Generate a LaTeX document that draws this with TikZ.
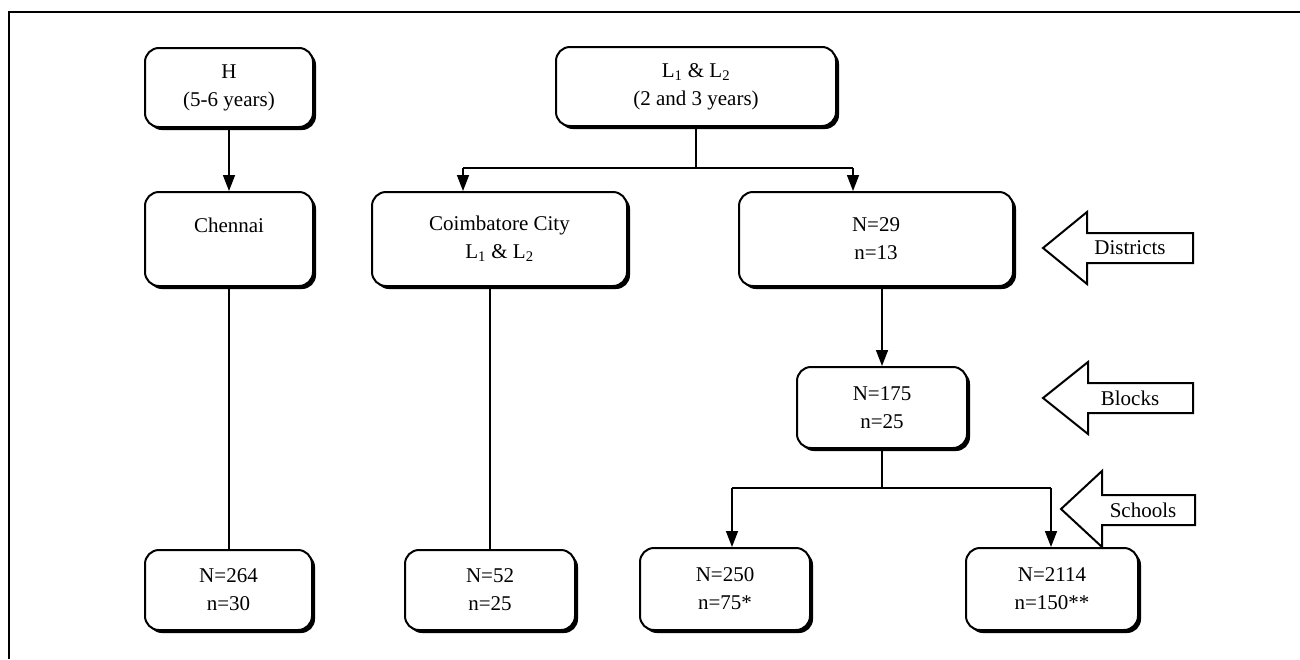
\documentclass[tikz,border=0pt]{standalone}
\usepackage{fontspec}
\setmainfont{Liberation Serif}
\usetikzlibrary{shadows,arrows.meta}
\tikzset{
  box/.style={draw, line width=2pt, rounded corners=14pt, fill=white, inner sep=0pt,
    align=center, font=\fontsize{21}{28}\selectfont,
    drop shadow={shadow xshift=3pt, shadow yshift=-3pt, fill=black, opacity=1}},
  conn/.style={line width=1.6pt},
  arr/.style={line width=1.6pt, -{Triangle[length=16pt,width=12pt]}},
  barrow/.style={draw, line width=2pt, fill=white, line join=miter},
  blabel/.style={font=\fontsize{21}{24}\selectfont, inner sep=0pt},
}
\begin{document}
\begin{tikzpicture}[x=1pt,y=-1pt]
\useasboundingbox (0,0) rectangle (1300,659);
\fill[white] (0,0) rectangle (1300,659);
% frame
\draw[line width=1.5pt] (1300,12) -- (9,12) -- (9,659);

% boxes
\node[box, minimum width=168pt, minimum height=79pt] (H) at (229,87.5) {H\\(5-6 years)};
\node[box, minimum width=280pt, minimum height=79pt] (L) at (696,86.5) {L\textsubscript{1} \& L\textsubscript{2}\\(2 and 3 years)};
\node[box, minimum width=168pt, minimum height=94pt] (Ch) at (229,239) {Chennai\\\mbox{}};
\node[box, minimum width=255pt, minimum height=94pt] (Co) at (499.5,239) {Coimbatore City\\L\textsubscript{1} \& L\textsubscript{2}};
\node[box, minimum width=274pt, minimum height=94pt] (D) at (876,239) {N=29\\n=13};
\node[box, minimum width=170pt, minimum height=81pt] (B) at (882,407.5) {N=175\\n=25};
\node[box, minimum width=167pt, minimum height=80pt] (N264) at (228.5,590) {N=264\\n=30};
\node[box, minimum width=170pt, minimum height=80pt] (N52) at (490,590) {N=52\\n=25};
\node[box, minimum width=170pt, minimum height=82pt] (N250) at (725,589) {N=250\\n=75*};
\node[box, minimum width=172pt, minimum height=82pt] (N2114) at (1052,589) {N=2114\\n=150**};

% connectors
\draw[arr] (H.south) -- (Ch.north);
\coordinate (jL) at (696,168);
\coordinate (aCo) at (463,168);
\coordinate (aD) at (853,168);
\draw[conn] (L.south) -- (jL);
\draw[conn] (aCo) -- (aD);
\draw[arr] (aCo) -- (aCo|-Co.north);
\draw[arr] (aD) -- (aD|-D.north);
\draw[arr] (D.south-|B.north) -- (B.north);
\coordinate (jB) at (882,488);
\coordinate (a250) at (732,488);
\coordinate (a2114) at (1051,488);
\draw[conn] (B.south) -- (jB);
\draw[conn] (a250) -- (a2114);
\draw[arr] (a250) -- (a250|-N250.north);
\draw[arr] (a2114) -- (a2114|-N2114.north);
\draw[conn] (Ch.south) -- (Ch.south|-N264.north);
\draw[conn] (N52.north|-Co.south) -- (N52.north);

% block arrows
\draw[barrow] (1043,248) -- (1087,212) -- (1087,233) -- (1193,233) -- (1193,263) -- (1087,263) -- (1087,284) -- cycle;
\node[blabel] (lD) at (1130,248) {Districts};
\draw[barrow] (1043,398) -- (1088,362) -- (1088,383) -- (1193,383) -- (1193,413) -- (1088,413) -- (1088,434) -- cycle;
\node[blabel] (lB) at (1130,398) {Blocks};
\draw[barrow] (1061,509) -- (1102,471) -- (1102,495) -- (1195,495) -- (1195,525) -- (1102,525) -- (1102,547) -- cycle;
\node[blabel] (lS) at (1143,510) {Schools};
\end{tikzpicture}
\end{document}
